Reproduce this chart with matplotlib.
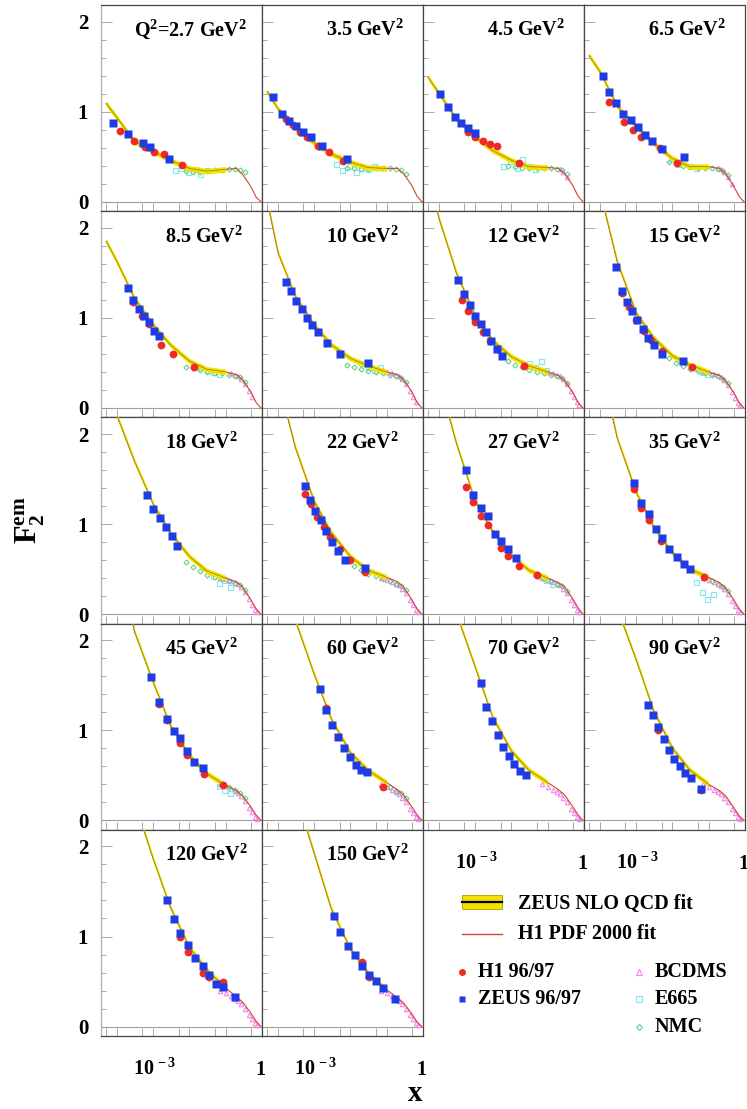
import numpy as np
import matplotlib
matplotlib.use('Agg')
import matplotlib.pyplot as plt
import matplotlib.transforms as mtrans
from matplotlib.patches import Rectangle
from matplotlib.lines import Line2D

plt.rcParams['font.family'] = ['Liberation Serif', 'DejaVu Serif']
plt.rcParams['font.weight'] = 'bold'
plt.rcParams['mathtext.fontset'] = 'custom'
plt.rcParams['mathtext.rm'] = 'Liberation Serif:bold'
plt.rcParams['mathtext.bf'] = 'Liberation Serif:bold'
plt.rcParams['mathtext.it'] = 'Liberation Serif:bold:italic'

# ---------------- data ----------------
Q2_LABELS = ['Q$^2$=2.7 GeV$^2$', '3.5 GeV$^2$', '4.5 GeV$^2$', '6.5 GeV$^2$',
             '8.5 GeV$^2$', '10 GeV$^2$', '12 GeV$^2$', '15 GeV$^2$',
             '18 GeV$^2$', '22 GeV$^2$', '27 GeV$^2$', '35 GeV$^2$',
             '45 GeV$^2$', '60 GeV$^2$', '70 GeV$^2$', '90 GeV$^2$',
             '120 GeV$^2$', '150 GeV$^2$']

FIT_X = [5e-5, 1e-4, 3e-4, 1e-3, 3e-3, 1e-2, 3e-2, 0.1, 0.2, 0.3, 0.5, 0.7, 0.95]
FIT_F2 = [
    [1.09, 0.93, 0.67, 0.56, 0.46, 0.37, 0.34, 0.36, 0.37, 0.30, 0.17, 0.05, 0.0],
    [1.22, 1.03, 0.82, 0.65, 0.53, 0.44, 0.38, 0.37, 0.37, 0.31, 0.18, 0.06, 0.0],
    [1.38, 1.20, 0.92, 0.72, 0.57, 0.46, 0.39, 0.38, 0.37, 0.31, 0.18, 0.06, 0.0],
    [1.62, 1.44, 1.06, 0.83, 0.65, 0.48, 0.39, 0.39, 0.37, 0.31, 0.17, 0.06, 0.0],
    [1.85, 1.62, 1.22, 0.92, 0.70, 0.52, 0.43, 0.40, 0.37, 0.31, 0.18, 0.06, 0.0],
    [2.30, 1.72, 1.24, 0.92, 0.70, 0.55, 0.47, 0.40, 0.37, 0.31, 0.18, 0.06, 0.0],
    [2.60, 2.10, 1.50, 1.02, 0.75, 0.57, 0.47, 0.40, 0.36, 0.30, 0.17, 0.06, 0.0],
    [3.00, 2.40, 1.62, 1.05, 0.78, 0.58, 0.48, 0.40, 0.36, 0.30, 0.17, 0.06, 0.0],
    [2.45, 2.20, 1.70, 1.22, 0.90, 0.64, 0.48, 0.40, 0.36, 0.30, 0.16, 0.06, 0.0],
    [3.00, 2.60, 1.85, 1.25, 0.90, 0.64, 0.49, 0.41, 0.36, 0.30, 0.16, 0.06, 0.0],
    [3.30, 2.60, 1.90, 1.25, 0.92, 0.65, 0.49, 0.40, 0.35, 0.30, 0.17, 0.07, 0.0],
    [3.50, 2.80, 1.95, 1.35, 0.97, 0.68, 0.50, 0.41, 0.35, 0.29, 0.16, 0.06, 0.0],
    [4.00, 3.20, 2.10, 1.53, 1.05, 0.72, 0.52, 0.39, 0.33, 0.27, 0.15, 0.06, 0.0],
    [3.30, 2.80, 2.22, 1.62, 1.12, 0.75, 0.56, 0.42, 0.34, 0.28, 0.15, 0.06, 0.0],
    [3.40, 2.90, 2.30, 1.70, 1.15, 0.77, 0.56, 0.42, 0.34, 0.28, 0.15, 0.06, 0.0],
    [3.60, 3.00, 2.35, 1.78, 1.22, 0.80, 0.56, 0.40, 0.33, 0.27, 0.14, 0.05, 0.0],
    [3.60, 3.20, 2.50, 1.86, 1.32, 0.88, 0.63, 0.43, 0.33, 0.27, 0.15, 0.06, 0.0],
    [3.70, 3.30, 2.60, 1.92, 1.30, 0.86, 0.60, 0.41, 0.32, 0.26, 0.14, 0.05, 0.0],
]

H1_X = [
    [1.2e-4, 3.0e-4, 5.9e-4, 1.05e-3, 1.95e-3, 6.2e-3],
    [1.6e-4, 2.5e-4, 4e-4, 6.3e-4, 1.26e-3, 2.5e-3, 6.3e-3],
    [6.3e-4, 1e-3, 1.6e-3, 2.5e-3, 4e-3, 0.016],
    [1.8e-4, 4.7e-4, 8.1e-4, 1.38e-3, 4.4e-3, 0.013],
    [2.75e-4, 5e-4, 7.5e-4, 1.6e-3, 3.5e-3, 0.013],
    [],
    [4.4e-4, 6.3e-4, 1e-3, 1.6e-3, 2.5e-3, 4e-3, 0.022],
    [4e-4, 6.3e-4, 1e-3, 1.6e-3, 2.5e-3, 0.005, 0.035],
    [],
    [5.5e-4, 8e-4, 1.2e-3, 1.8e-3, 2.7e-3, 5e-3, 0.01, 0.025],
    [5.5e-4, 8.7e-4, 1.41e-3, 2.24e-3, 5.1e-3, 8.1e-3, 0.016, 0.05],
    [8.5e-4, 1.32e-3, 2.2e-3, 4.9e-3, 0.074],
    [1.45e-3, 2.45e-3, 5.5e-3, 8.5e-3, 0.026, 0.083],
    [2.1e-3, 0.08],
    [],
    [4e-3, 0.06],
    [5.4e-3, 8.9e-3, 0.0234, 0.035, 0.085],
    [0.021, 0.033],
]
H1_F2 = [
    [0.79, 0.67, 0.61, 0.55, 0.53, 0.41],
    [0.92, 0.85, 0.78, 0.72, 0.62, 0.55, 0.45],
    [0.78, 0.72, 0.68, 0.64, 0.62, 0.43],
    [1.11, 0.89, 0.80, 0.72, 0.60, 0.43],
    [1.18, 1.02, 0.93, 0.70, 0.60, 0.45],
    [],
    [1.20, 1.08, 0.96, 0.84, 0.74, 0.65, 0.47],
    [1.28, 1.12, 0.98, 0.85, 0.75, 0.63, 0.45],
    [],
    [1.33, 1.22, 1.08, 0.97, 0.86, 0.72, 0.60, 0.47],
    [1.41, 1.25, 1.09, 0.99, 0.74, 0.65, 0.54, 0.44],
    [1.39, 1.18, 1.04, 0.81, 0.41],
    [1.29, 1.11, 0.86, 0.73, 0.52, 0.39],
    [1.25, 0.37],
    [],
    [1.00, 0.34],
    [1.00, 0.83, 0.60, 0.55, 0.49],
    [0.72, 0.55],
]

ZEUS_X = [
    [7.9e-5, 2.0e-4, 5.2e-4, 8.3e-4, 2.7e-3],
    [7.2e-5, 1.26e-4, 2.0e-4, 3.2e-4, 5e-4, 7.9e-4, 1.6e-3, 7.9e-3],
    [1.05e-4, 1.7e-4, 2.75e-4, 4e-4, 6.3e-4, 1e-3],
    [1.17e-4, 1.8e-4, 2.75e-4, 4.4e-4, 7.1e-4, 1.12e-3, 1.7e-3, 2.7e-3, 5e-3, 0.021],
    [2e-4, 2.75e-4, 4e-4, 5.5e-4, 7.5e-4, 1.05e-3, 1.45e-3],
    [1.6e-4, 2.2e-4, 3.2e-4, 4.5e-4, 6.3e-4, 8.9e-4, 1.26e-3, 2.2e-3, 5e-3, 0.03],
    [3.4e-4, 5e-4, 7e-4, 1e-3, 1.4e-3, 2e-3, 2.8e-3, 4e-3, 5.6e-3],
    [2.75e-4, 4e-4, 5.5e-4, 7.5e-4, 1.05e-3, 1.5e-3, 2.1e-3, 3e-3, 5e-3, 0.02],
    [6.5e-4, 1e-3, 1.5e-3, 2.2e-3, 3.2e-3, 4.6e-3],
    [5.5e-4, 7.5e-4, 1.05e-3, 1.5e-3, 2.1e-3, 3e-3, 4.5e-3, 7e-3, 0.025],
    [5.5e-4, 8.7e-4, 1.41e-3, 2.24e-3, 3.4e-3, 5.1e-3, 8.1e-3, 0.0132],
    [8.5e-4, 1.32e-3, 2.2e-3, 3.4e-3, 5e-3, 7.9e-3, 0.013, 0.021, 0.031],
    [8.9e-4, 1.45e-3, 2.45e-3, 3.7e-3, 5.5e-3, 8.5e-3, 0.0135, 0.023],
    [1.41e-3, 2.1e-3, 3e-3, 4.5e-3, 6.5e-3, 9.5e-3, 0.014, 0.02, 0.028],
    [1.4e-3, 2e-3, 2.9e-3, 4.2e-3, 6e-3, 8.5e-3, 0.012, 0.017, 0.025],
    [2.1e-3, 2.9e-3, 4e-3, 5.7e-3, 8e-3, 0.011, 0.016, 0.022, 0.032, 0.06],
    [2.45e-3, 3.7e-3, 5.4e-3, 8.9e-3, 0.0145, 0.0234, 0.035, 0.054, 0.085, 0.18],
    [3.5e-3, 5.2e-3, 8.3e-3, 0.0135, 0.021, 0.033, 0.05, 0.081, 0.17],
]
ZEUS_F2 = [
    [0.87, 0.75, 0.65, 0.61, 0.48],
    [1.16, 0.97, 0.90, 0.84, 0.78, 0.72, 0.62, 0.47],
    [1.20, 1.05, 0.94, 0.88, 0.82, 0.76],
    [1.40, 1.22, 1.10, 0.98, 0.91, 0.83, 0.74, 0.67, 0.59, 0.50],
    [1.33, 1.20, 1.10, 1.02, 0.95, 0.86, 0.80],
    [1.40, 1.30, 1.19, 1.10, 1.00, 0.92, 0.84, 0.72, 0.60, 0.50],
    [1.42, 1.27, 1.14, 1.02, 0.93, 0.84, 0.74, 0.65, 0.58],
    [1.57, 1.30, 1.18, 1.08, 0.98, 0.88, 0.78, 0.70, 0.60, 0.52],
    [1.32, 1.17, 1.07, 0.97, 0.87, 0.76],
    [1.42, 1.27, 1.15, 1.04, 0.92, 0.80, 0.70, 0.60, 0.51],
    [1.60, 1.32, 1.18, 1.09, 0.89, 0.81, 0.72, 0.62],
    [1.46, 1.23, 1.11, 0.95, 0.85, 0.72, 0.63, 0.56, 0.50],
    [1.59, 1.31, 1.13, 0.99, 0.91, 0.77, 0.65, 0.58],
    [1.46, 1.23, 1.06, 0.93, 0.80, 0.70, 0.62, 0.56, 0.54],
    [1.53, 1.26, 1.10, 0.95, 0.82, 0.72, 0.63, 0.55, 0.50],
    [1.28, 1.17, 1.04, 0.90, 0.78, 0.68, 0.60, 0.53, 0.47, 0.35],
    [1.40, 1.19, 1.04, 0.91, 0.76, 0.67, 0.57, 0.47, 0.44, 0.33],
    [1.23, 1.05, 0.89, 0.80, 0.67, 0.57, 0.51, 0.43, 0.31],
]

NMC_X = [0.008, 0.0125, 0.02, 0.03, 0.05, 0.08, 0.125, 0.18, 0.25, 0.35]
NMC_F2 = [
    [0.34, 0.33, 0.33, 0.34, 0.35, 0.35, 0.36, 0.36, 0.35, 0.33],
    [0.38, 0.37, 0.36, 0.36, 0.37, 0.37, 0.37, 0.36, 0.35, 0.31],
    [0.40, 0.39, 0.38, 0.37, 0.38, 0.38, 0.37, 0.36, 0.35, 0.31],
    [0.44, 0.42, 0.40, 0.39, 0.38, 0.38, 0.38, 0.36, 0.34, 0.30],
    [0.46, 0.44, 0.42, 0.40, 0.39, 0.39, 0.37, 0.36, 0.34, 0.29],
    [0.48, 0.46, 0.43, 0.41, 0.40, 0.39, 0.37, 0.35, 0.33, 0.29],
    [0.52, 0.48, 0.45, 0.42, 0.40, 0.39, 0.37, 0.35, 0.33, 0.28],
    [0.55, 0.50, 0.47, 0.43, 0.41, 0.39, 0.37, 0.35, 0.32, 0.28],
    [0.58, 0.52, 0.48, 0.44, 0.41, 0.39, 0.37, 0.35, 0.32, 0.27],
    [0.60, 0.54, 0.49, 0.45, 0.42, 0.39, 0.37, 0.34, 0.31, 0.27],
    [None] * 4 + [0.42, 0.39, 0.37, 0.34, 0.31, 0.26],
    [None] * 5 + [0.40, 0.37, 0.34, 0.30, 0.26],
    [None] * 5 + [0.40, 0.37, 0.34, 0.30, 0.25],
    [None] * 6 + [0.37, 0.33, 0.30, 0.25],
    [None] * 10,
    [None] * 10,
    [None] * 10,
    [None] * 10,
]

E665_X = [0.004, 0.006, 0.009, 0.014, 0.02, 0.03, 0.045, 0.065, 0.09, 0.13]
E665_F2 = [
    [0.35, 0.38, 0.33, 0.36, 0.31, 0.35, None, None, None, None],
    [0.42, 0.35, 0.40, 0.33, 0.38, 0.36, 0.40, None, None, None],
    [None, 0.40, 0.45, 0.38, 0.47, 0.40, 0.36, None, None, None],
    [None, None, 0.48, 0.42, 0.45, 0.40, 0.37, None, None, None],
    [None, None, None, None, 0.46, 0.42, 0.40, 0.38, None, None],
    [None, None, None, None, 0.50, 0.46, 0.42, 0.45, None, None],
    [None, None, None, None, None, 0.50, 0.45, 0.52, 0.42, None],
    [None, None, None, None, None, None, 0.44, 0.40, 0.38, None],
    [None, None, None, None, None, None, 0.42, 0.35, 0.38, 0.30],
    [None] * 10,
    [None, None, None, None, None, None, 0.46, 0.42, 0.38, 0.34],
    [None, None, None, None, None, None, 0.36, 0.25, 0.17, 0.22],
    [None, None, None, None, None, None, None, 0.38, 0.34, 0.30],
    [None] * 10,
    [None] * 10,
    [None] * 10,
    [None] * 10,
    [None] * 10,
]

BCDMS_X = [0.07, 0.1, 0.14, 0.18, 0.225, 0.275, 0.35, 0.45, 0.55, 0.65, 0.75]
BCDMS_F2 = [
    [None] * 11,
    [None] * 11,
    [None, None, None, None, 0.36, 0.33, 0.28, None, None, None, None],
    [None, None, None, 0.38, 0.36, 0.33, 0.28, 0.20, None, None, None],
    [None, None, 0.39, 0.37, 0.35, 0.32, 0.27, 0.19, 0.12, None, None],
    [None, 0.40, 0.39, 0.37, 0.35, 0.32, 0.27, 0.19, 0.12, 0.07, None],
    [None, 0.40, 0.39, 0.37, 0.35, 0.32, 0.27, 0.19, 0.12, 0.07, 0.03],
    [0.40, 0.40, 0.38, 0.37, 0.34, 0.31, 0.26, 0.18, 0.11, 0.06, 0.03],
    [0.40, 0.39, 0.37, 0.35, 0.33, 0.30, 0.25, 0.17, 0.10, 0.05, 0.02],
    [0.40, 0.38, 0.36, 0.34, 0.32, 0.28, 0.23, 0.16, 0.10, 0.05, 0.02],
    [0.40, 0.38, 0.36, 0.34, 0.32, 0.28, 0.23, 0.16, 0.10, 0.05, 0.02],
    [0.40, 0.38, 0.36, 0.34, 0.31, 0.28, 0.22, 0.15, 0.09, 0.05, 0.02],
    [0.40, 0.38, 0.35, 0.33, 0.30, 0.27, 0.21, 0.14, 0.09, 0.04, 0.02],
    [0.40, 0.37, 0.34, 0.32, 0.29, 0.25, 0.20, 0.13, 0.08, 0.04, 0.015],
    [0.40, 0.37, 0.34, 0.32, 0.29, 0.25, 0.20, 0.13, 0.08, 0.04, 0.015],
    [0.40, 0.37, 0.34, 0.32, 0.29, 0.25, 0.20, 0.13, 0.08, 0.04, 0.015],
    [0.40, 0.37, 0.34, 0.31, 0.28, 0.25, 0.19, 0.13, 0.08, 0.04, 0.015],
    [0.40, 0.37, 0.34, 0.31, 0.28, 0.25, 0.19, 0.13, 0.08, 0.04, 0.015],
]

ZEUS_BAND_XMAX = 0.1
BAND_HALF = 0.03

# ---------------- style ----------------
W, H = 747, 1109
L0, T0, PW, PH = 100.7, 5.0, 161.0, 206.2
XLIM = (3.5e-5, 1.0)
YLIM = (-0.105, 2.185)
C_YEL = '#f5e000'
C_ZC = '#9c8a00'
C_H1L = '#d4442a'
C_RED = '#ee2b22'
C_BLUE = '#1f3be6'
C_PINK = '#ee88ee'
C_CYAN = '#7fe8ee'
C_GREEN = '#66d08a'

fig = plt.figure(figsize=(W / 100, H / 100), dpi=100)


def clean(xs, ys):
    px = [x for x, y in zip(xs, ys) if y is not None]
    py = [y for y in ys if y is not None]
    return px, py


for i in range(18):
    r, c = divmod(i, 4)
    ax = fig.add_axes([(L0 + c * PW) / W, 1 - (T0 + (r + 1) * PH) / H, PW / W, PH / H])
    ax.set_xscale('log')
    ax.set_xlim(*XLIM)
    ax.set_ylim(*YLIM)

    ax.axhline(0, color='#a0a0a0', lw=0.8, zorder=1)

    # fixed-target data
    bx, by = clean(BCDMS_X, BCDMS_F2[i])
    ax.plot(bx, by, ls='none', marker='^', ms=3.2, mfc='none', mec=C_PINK, mew=0.8, zorder=2)
    ex, ey = clean(E665_X, E665_F2[i])
    ax.plot(ex, ey, ls='none', marker='s', ms=3.6, mfc='none', mec=C_CYAN, mew=0.8, zorder=2)
    nx, ny = clean(NMC_X, NMC_F2[i])
    ax.plot(nx, ny, ls='none', marker='D', ms=2.6, mfc='none', mec=C_GREEN, mew=0.8, zorder=2)

    # fits
    fx = np.array(FIT_X)
    fy = np.array(FIT_F2[i])
    m = fx <= ZEUS_BAND_XMAX
    ax.plot(fx, fy, color=C_H1L, lw=0.8, zorder=2.8)
    ax.fill_between(fx[m], fy[m] - BAND_HALF, fy[m] + BAND_HALF, color=C_YEL, lw=0, zorder=3)
    ax.plot(fx[m], fy[m], color=C_ZC, lw=0.6, zorder=3.5)

    # HERA data
    ax.plot(H1_X[i], H1_F2[i], ls='none', marker='o', ms=5.6, color=C_RED, mec='none', zorder=5)
    ax.plot(ZEUS_X[i], ZEUS_F2[i], ls='none', marker='s', ms=5.6, color=C_BLUE, mec='none', zorder=6)

    # ticks / spines
    ax.set_yticks([0, 1, 2])
    ax.set_yticks(np.arange(0.2, 2.2, 0.2), minor=True)
    ax.set_xticks([1e-4, 1e-3, 1e-2, 1e-1, 1.0])
    ax.set_xticks([5e-5, 5e-4, 5e-3, 5e-2, 0.5], minor=True)
    ax.tick_params(axis='y', which='major', direction='in', length=8, width=0.6, color='#9a9a9a', pad=9,
                   labelsize=15, left=True, right=False)
    ax.tick_params(axis='y', which='minor', direction='in', length=3.5, width=0.6, color='#9a9a9a',
                   left=True, right=False)
    ax.tick_params(axis='x', which='both', direction='in', length=6, width=0.6, color='#9a9a9a',
                   bottom=True, top=False, labelbottom=False)
    if c == 0:
        ax.set_yticklabels(['0', '1', '2'], fontweight='bold')
    else:
        ax.set_yticklabels([])
    for name, sp in ax.spines.items():
        sp.set_color('#454545')
        sp.set_linewidth(0.9)
    if c == 0:
        ax.spines['left'].set_color('#b0b0b0')

    # panel label
    lx = 33 / PW if i == 0 else 64 / PW
    ax.text(lx, 0.849, Q2_LABELS[i], transform=ax.transAxes, fontsize=14.5,
            fontweight='bold', ha='left', va='baseline')

    # x tick labels for lowest panel of each column
    if i >= 14:
        tr = mtrans.blended_transform_factory(ax.transData, ax.transAxes)
        yb = -39 / PH
        ax.text(1.1e-3, yb, r'10$^{\,-3}$', transform=tr, fontsize=14.5, ha='center', va='baseline')
        ax.text(0.93, yb, '1', transform=tr, fontsize=14.5, ha='center', va='baseline')

# axis titles
fig.text(30 / W, 1 - 520 / H, r'$\mathbf{F_2^{em}}$', rotation=90, fontsize=22, ha='center', va='center')
fig.text(415 / W, 1 - 1101 / H, 'x', fontsize=21, fontweight='bold', ha='center', va='baseline')

# legend (drawn in the free area)
def fx_(px):
    return px / W


def fy_(py):
    return 1 - py / H


fig.patches.append(Rectangle((fx_(462), fy_(909)), 40 / W, 14 / H, transform=fig.transFigure,
                             facecolor=C_YEL, edgecolor='#b0a000', lw=0.6))
fig.lines.append(Line2D([fx_(462), fx_(502)], [fy_(902), fy_(902)], transform=fig.transFigure,
                        color='black', lw=1.6))
fig.lines.append(Line2D([fx_(462), fx_(502)], [fy_(934), fy_(934)], transform=fig.transFigure,
                        color=C_H1L, lw=1.0))
fig.lines.append(Line2D([fx_(462)], [fy_(972)], transform=fig.transFigure, ls='none',
                        marker='o', ms=5, color=C_RED, mec='none'))
fig.lines.append(Line2D([fx_(462)], [fy_(999)], transform=fig.transFigure, ls='none',
                        marker='s', ms=5, color=C_BLUE, mec='none'))
fig.lines.append(Line2D([fx_(639)], [fy_(972)], transform=fig.transFigure, ls='none',
                        marker='^', ms=4, mfc='none', mec=C_PINK, mew=0.8))
fig.lines.append(Line2D([fx_(639)], [fy_(999)], transform=fig.transFigure, ls='none',
                        marker='s', ms=4, mfc='none', mec=C_CYAN, mew=0.8))
fig.lines.append(Line2D([fx_(639)], [fy_(1027)], transform=fig.transFigure, ls='none',
                        marker='D', ms=3, mfc='none', mec=C_GREEN, mew=0.8))

LEG_TEXT = [('ZEUS NLO QCD fit', 518, 904), ('H1 PDF 2000 fit', 518, 934),
            ('H1 96/97', 478, 972), ('ZEUS 96/97', 478, 999),
            ('BCDMS', 655, 972), ('E665', 655, 999), ('NMC', 655, 1027)]
for t, px, py in LEG_TEXT:
    fig.text(fx_(px), fy_(py), t, fontsize=14.5, fontweight='bold', ha='left', va='center')

fig.savefig('out.png', dpi=100)
